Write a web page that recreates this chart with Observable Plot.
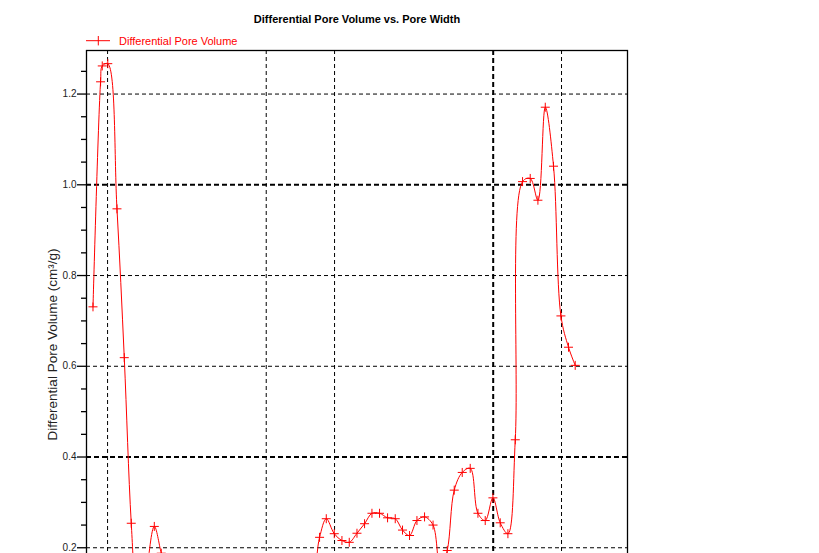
<!DOCTYPE html>
<html>
<head>
<meta charset="utf-8">
<script src="https://cdn.jsdelivr.net/npm/d3@7"></script>
<script src="https://cdn.jsdelivr.net/npm/@observablehq/plot@0.6"></script>
<style>
  html, body { margin: 0; padding: 0; background: #fff; overflow: hidden; width: 819px; height: 553px; }
  #wrap { position: relative; width: 819px; height: 553px; overflow: hidden; font-family: "Liberation Sans", Arial, sans-serif; }
  #title { position: absolute; left: 0; width: 714px; top: 14px; text-align: center; font-size: 11px; line-height: 11px; font-weight: bold; color: #000; }
  #legend-text { position: absolute; left: 119px; top: 35.7px; font-size: 11px; line-height: 11px; color: #ff0000; }
  #legend-key { position: absolute; left: 84px; top: 34px; }
  #chart { position: absolute; left: 0; top: 0; }
</style>
</head>
<body>
<div id="wrap">
  <div id="chart"></div>
  <div id="title">Differential Pore Volume vs. Pore Width</div>
  <svg id="legend-key" width="30" height="14">
    <line x1="2" y1="6.7" x2="26" y2="6.7" stroke="#ff0000" stroke-width="1"/>
    <line x1="14.3" y1="2" x2="14.3" y2="11.4" stroke="#ff0000" stroke-width="1"/>
  </svg>
  <div id="legend-text">Differential Pore Volume</div>
</div>
<script>
// Pore width (log axis) and differential pore volume (cm³/g)
const poreWidth = [1.725, 1.863, 1.895, 2.004, 2.200, 2.369, 2.543, 2.745, 2.961, 3.213, 3.448, 3.702,
  5.12, 8.5, 12.76, 15.95, 17.18, 18.39, 19.94, 21.56, 23.22, 25.11, 27.12, 29.23, 31.57, 34.25,
  37.02, 39.86, 42.80, 46.14, 49.84, 54.33, 58.44, 62.74, 67.36, 73.05, 79.21, 85.65, 92.24,
  99.72, 107.4, 116.1, 125.1, 134.7, 145.6, 157.4, 169.6, 184.4, 198.8, 214.7, 229.8];
const poreVolume = [0.731, 1.227, 1.262, 1.267, 0.947, 0.619, 0.254, 0.03, 0.14, 0.247, 0.188, 0.13,
  0.09, 0.08, 0.09, 0.14, 0.223, 0.264, 0.231, 0.216, 0.212, 0.232, 0.253, 0.276, 0.276, 0.266,
  0.264, 0.239, 0.227, 0.260, 0.268, 0.250, 0.15, 0.194, 0.327, 0.366, 0.375, 0.276, 0.260,
  0.310, 0.255, 0.231, 0.438, 1.007, 1.014, 0.966, 1.171, 1.041, 0.711, 0.642, 0.602];

// gridlines and ticks
const xGridThin = [2, 10, 20, 200];
const xGridThick = [100];
const yGridThin = [0.2, 0.6, 0.8, 1.2];
const yGridThick = [0.4, 1.0];
const yMajorTicks = [0.2, 0.4, 0.6, 0.8, 1.0, 1.2];
const yMinorTicks = [0.25, 0.3, 0.35, 0.45, 0.5, 0.55, 0.65, 0.7, 0.75, 0.85, 0.9, 0.95, 1.05, 1.1, 1.15, 1.25];

const data = poreWidth.map((x, i) => ({x, y: poreVolume[i]}));

const plusSymbol = {
  draw(ctx, size) {
    const h = Math.sqrt(size / Math.PI);
    ctx.moveTo(-h, 0); ctx.lineTo(h, 0);
    ctx.moveTo(0, -h); ctx.lineTo(0, h);
  }
};

const chart = Plot.plot({
  width: 819,
  height: 648,
  marginTop: 50,
  marginLeft: 86,
  marginRight: 192,
  marginBottom: 10,
  style: {fontFamily: "'Liberation Sans', Arial, sans-serif", background: "white", color: "black"},
  x: {type: "log", domain: [1.615, 390.6], axis: null},
  y: {domain: [0, 1.296], axis: null},
  marks: [
    Plot.ruleX(xGridThin, {stroke: "black", strokeWidth: 1, strokeDasharray: "4,3"}),
    Plot.ruleX(xGridThick, {stroke: "black", strokeWidth: 2, strokeDasharray: "5,3"}),
    Plot.ruleY(yGridThin, {stroke: "black", strokeWidth: 1, strokeDasharray: "4,3"}),
    Plot.ruleY(yGridThick, {stroke: "black", strokeWidth: 2, strokeDasharray: "5,3"}),
    Plot.axisY(yMinorTicks, {tickSize: 5, text: null, label: null, strokeWidth: 1.3}),
    Plot.axisY(yMajorTicks, {tickSize: 9, tickPadding: 1, tickFormat: d3.format(".1f"), label: null, fontSize: 10, fill: "#222", strokeWidth: 1.3}),
    Plot.text(["Differential Pore Volume (cm³/g)"], {frameAnchor: "left", textAnchor: "middle", lineAnchor: "middle", rotate: -90, dx: -34, fontSize: 13.5, fill: "#222"}),
    Plot.frame({stroke: "black", strokeWidth: 1.3}),
    Plot.line(data, {x: "x", y: "y", stroke: "#ff0000", strokeWidth: 1, curve: "catmull-rom", clip: true}),
    Plot.dot(data, {x: "x", y: "y", symbol: plusSymbol, r: 4.5, stroke: "#ff0000", fill: "none", strokeWidth: 1})
  ]
});
document.getElementById("chart").appendChild(chart);
</script>
</body>
</html>
